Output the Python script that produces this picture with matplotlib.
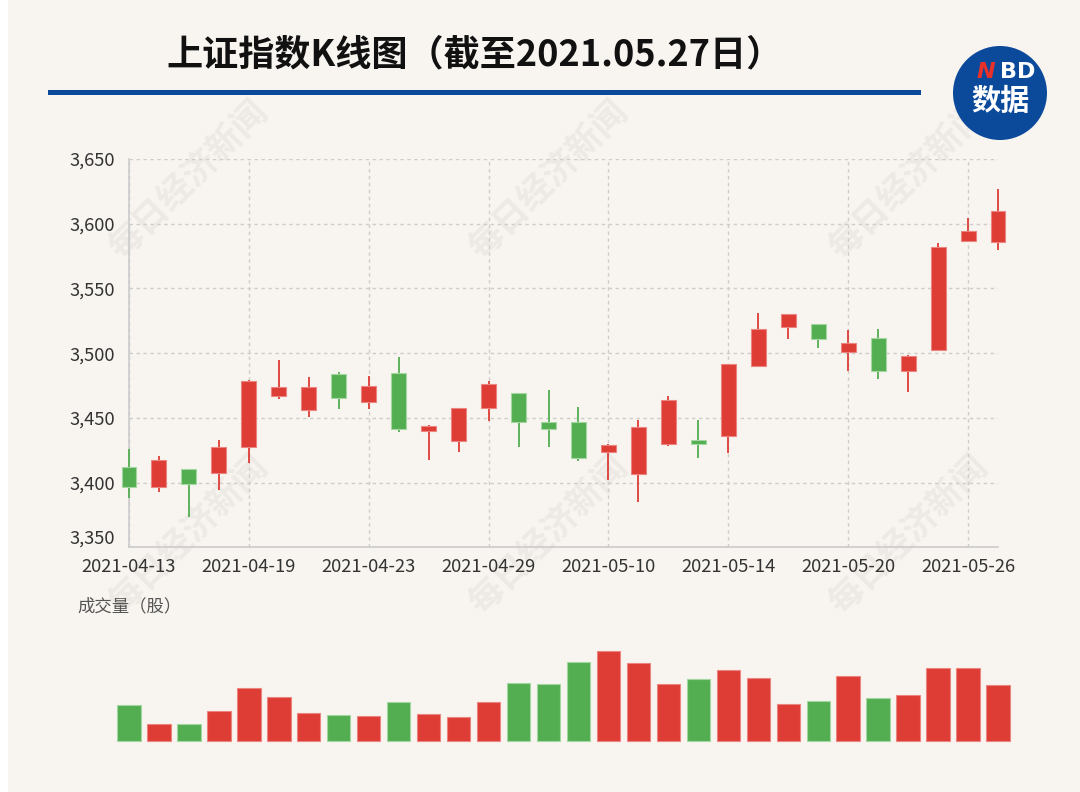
import matplotlib
matplotlib.use("Agg")
import matplotlib.pyplot as plt
from matplotlib.patches import Circle, Rectangle
import numpy as np

plt.rcParams['font.family'] = ['Noto Sans CJK SC', 'DejaVu Sans']

# 上证指数 2021-04-13 ~ 2021-05-27
dates = ['2021-04-13', '2021-04-14', '2021-04-15', '2021-04-16', '2021-04-19',
         '2021-04-20', '2021-04-21', '2021-04-22', '2021-04-23', '2021-04-26',
         '2021-04-27', '2021-04-28', '2021-04-29', '2021-04-30', '2021-05-06',
         '2021-05-07', '2021-05-10', '2021-05-11', '2021-05-12', '2021-05-13',
         '2021-05-14', '2021-05-17', '2021-05-18', '2021-05-19', '2021-05-20',
         '2021-05-21', '2021-05-24', '2021-05-25', '2021-05-26', '2021-05-27']

opens  = [3411.8, 3396.9, 3410.3, 3407.2, 3427.5, 3467.2, 3456.1, 3483.7, 3462.0, 3484.9,
          3439.9, 3432.2, 3457.9, 3469.0, 3446.6, 3447.1, 3423.4, 3406.7, 3429.6, 3432.9,
          3436.0, 3490.3, 3520.5, 3522.3, 3500.7, 3512.0, 3486.2, 3502.5, 3586.9, 3585.6]
closes = [3396.4, 3417.5, 3398.9, 3427.3, 3478.5, 3473.6, 3473.6, 3465.1, 3474.9, 3441.2,
          3443.7, 3457.9, 3475.9, 3446.6, 3441.2, 3418.8, 3428.8, 3442.7, 3463.8, 3429.6,
          3491.4, 3518.7, 3530.0, 3511.0, 3508.1, 3486.5, 3498.1, 3582.3, 3594.4, 3609.8]
highs  = [3425.7, 3420.6, 3410.5, 3432.9, 3479.3, 3494.7, 3481.9, 3485.7, 3482.4, 3497.3,
          3444.5, 3458.0, 3478.8, 3469.0, 3471.6, 3458.2, 3429.8, 3448.4, 3466.9, 3448.4,
          3491.4, 3530.8, 3530.0, 3522.3, 3517.9, 3518.7, 3498.6, 3584.9, 3604.2, 3626.8]
lows   = [3388.4, 3393.0, 3373.7, 3394.3, 3414.9, 3464.3, 3450.4, 3456.9, 3456.9, 3438.8,
          3417.5, 3423.9, 3447.9, 3427.3, 3427.3, 3417.0, 3402.0, 3385.3, 3428.5, 3418.8,
          3422.6, 3490.3, 3511.0, 3504.3, 3486.5, 3480.0, 3470.3, 3502.5, 3586.1, 3579.7]
# 成交量（亿股，估读）
volumes = [272, 128, 130, 225, 398, 330, 210, 198, 193, 298,
           205, 183, 298, 435, 428, 598, 678, 585, 433, 465,
           533, 473, 278, 303, 490, 323, 345, 548, 550, 425]

y_ticks = [3350, 3400, 3450, 3500, 3550, 3600, 3650]

BG = '#f8f5f0'
RED, RED_EDGE = '#dd3d35', '#ec8580'
GREEN, GREEN_EDGE = '#53ae51', '#a3d6a1'
BLUE = '#0b4a9b'

fig = plt.figure(figsize=(10.8, 7.92), dpi=100, facecolor=BG)

# watermarks
for wx in [188, 548, 908]:
    for wy in [180, 535]:
        fig.text(wx / 1080, 1 - wy / 792, '每日经济新闻', rotation=45, fontsize=25,
                 fontweight='bold', color='#ede9e4', ha='center', va='center', zorder=-1)

# title + rule
fig.text(475 / 1080, 1 - 55 / 792, '上证指数K线图（截至2021.05.27日）', fontsize=26,
         fontweight='bold', color='#111111', ha='center', va='center')
fig.add_artist(Rectangle((48 / 1080, 1 - 95 / 792), (921 - 48) / 1080, 5.5 / 792,
                         transform=fig.transFigure, color=BLUE, lw=0))

# logo
lax = fig.add_axes([953 / 1080, 1 - 140 / 792, 94 / 1080, 94 / 792])
lax.set_xlim(-1, 1)
lax.set_ylim(-1, 1)
lax.axis('off')
lax.add_patch(Circle((0, 0), 1, color=BLUE, lw=0))
lax.text(-0.30, 0.44, 'N', fontsize=16, fontweight='bold', color='#e8312b',
         ha='center', va='center', style='italic', family='DejaVu Sans')
lax.text(0.38, 0.44, 'BD', fontsize=16, fontweight='bold', color='white',
         ha='center', va='center', family='DejaVu Sans')
lax.text(0.0, -0.17, '数据', fontsize=21, fontweight='bold', color='white',
         ha='center', va='center')

# candle axes
ax = fig.add_axes([129 / 1080, 1 - 547.3 / 792, (998 - 129) / 1080, (547.3 - 159) / 792])
ax.set_facecolor('none')
x = np.arange(len(dates))
for i in x:
    up = closes[i] >= opens[i]
    c, ec = (RED, RED_EDGE) if up else (GREEN, GREEN_EDGE)
    ax.vlines(i, lows[i], highs[i], color=c, lw=1.3, zorder=3, clip_on=False)
    lo, hi = min(opens[i], closes[i]), max(opens[i], closes[i])
    ax.bar(i, max(hi - lo, 0.8), bottom=lo, width=0.5, color=c, edgecolor=ec,
           linewidth=0.8, zorder=4, clip_on=False)

ax.set_xlim(0, len(dates) - 1)
ax.set_ylim(3350, 3650)
ax.set_yticks(y_ticks)
ax.set_yticklabels([f'{v:,}' for v in y_ticks])
ax.set_xticks(x[::4])
ax.set_xticklabels(dates[::4])
ax.tick_params(axis='both', length=0, labelsize=13.2, colors='#333333')
ax.tick_params(axis='y', pad=10)
ax.tick_params(axis='x', pad=8)
# nudge the bottom y label up a little so it clears the first date label
ax.get_yticklabels()[0].set_va('bottom')
ax.grid(True, color='#cfcccc', linestyle=(0, (2.5, 2.5)), lw=1)
for s in ['top', 'right']:
    ax.spines[s].set_visible(False)
for s in ['left', 'bottom']:
    ax.spines[s].set_color('#cccccc')
    ax.spines[s].set_linewidth(1.2)
ax.set_axisbelow(True)

fig.text(77 / 1080, 1 - 606 / 792, '成交量（股）', fontsize=12.5, color='#555555',
         ha='left', va='center')

# volume axes
vax = fig.add_axes([129 / 1080, 1 - 741.3 / 792, (998 - 129) / 1080, 90.3 / 792])
vax.set_facecolor('none')
vcols = [RED if closes[i] >= opens[i] else GREEN for i in x]
vedges = [RED_EDGE if closes[i] >= opens[i] else GREEN_EDGE for i in x]
vax.bar(x, volumes, width=0.78, color=vcols, edgecolor=vedges, linewidth=0.8,
        clip_on=False)
vax.set_xlim(0, len(dates) - 1)
vax.set_ylim(0, max(volumes))
vax.axis('off')

# thin white strip at left edge
fig.add_artist(Rectangle((0, 0), 8 / 1080, 1, transform=fig.transFigure,
                         color='white', lw=0, zorder=-2))

fig.savefig('out.png', dpi=100, facecolor=BG)
